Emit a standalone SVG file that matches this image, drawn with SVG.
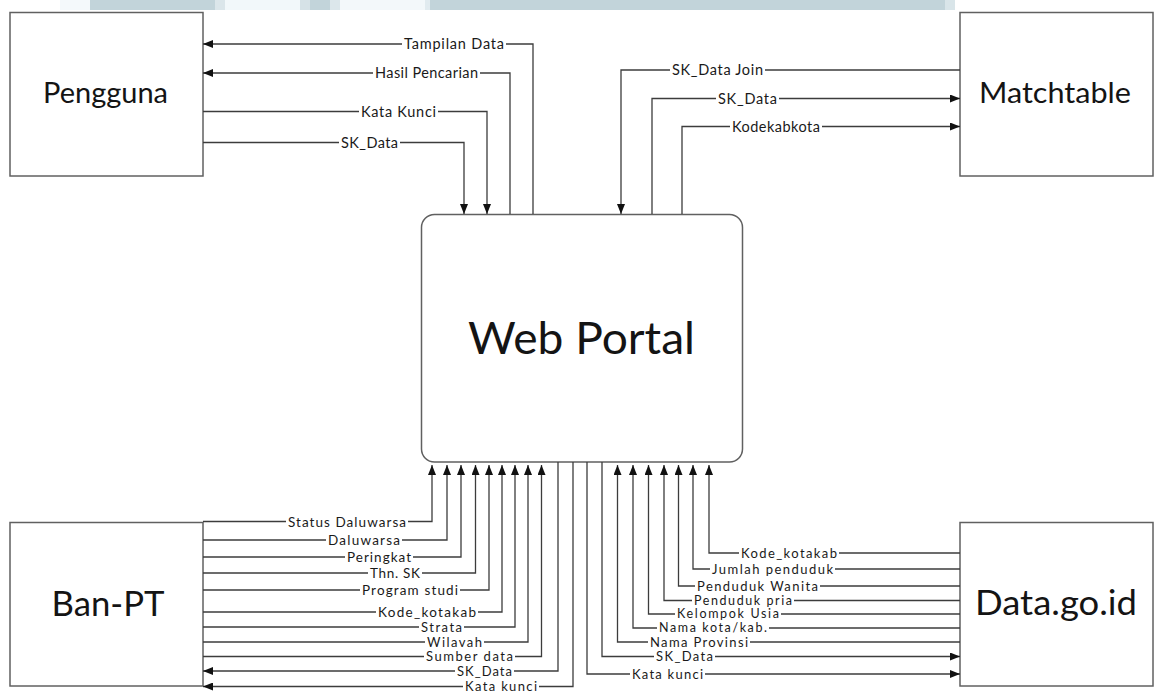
<svg xmlns="http://www.w3.org/2000/svg" width="1156" height="692" viewBox="0 0 1156 692">
<style>
.box{fill:#fff;stroke:#606060;stroke-width:1.5}
.name{font-family:Lato,"Open Sans","Liberation Sans",sans-serif;fill:#141414;text-anchor:middle}
.ln{fill:none;stroke:#3c3c3c;stroke-width:1.3}
.arr{marker-end:url(#ah)}
.bg{fill:#fff}
.lb{font-family:Lato,"Open Sans","Liberation Sans",sans-serif;font-size:13px;fill:#1a1a1a;text-anchor:middle}
.lt{font-size:14.5px}
.lm{font-size:13.5px}
.ls{font-size:12.5px}
</style>
<defs>
<marker id="ah" markerUnits="userSpaceOnUse" markerWidth="10" markerHeight="8" refX="10" refY="4" orient="auto">
<path d="M0,0 L10,4 L0,8 z" fill="#111"/>
</marker>
</defs>
<rect width="1156" height="692" fill="#fff"/>
<g id="banner">
<rect x="60" y="0" width="30" height="10" fill="#f4f9fb"/>
<rect x="90" y="0" width="865" height="10" fill="#c2d4da"/>
<rect x="215" y="0" width="10" height="10" fill="#dbe6ea"/>
<rect x="225" y="0" width="75" height="10" fill="#f2f8fa"/>
<rect x="300" y="0" width="10" height="10" fill="#d6e2e7"/>
<rect x="330" y="0" width="10" height="10" fill="#dce7eb"/>
<rect x="340" y="0" width="85" height="10" fill="#f3f8fa"/>
<rect x="425" y="0" width="5" height="10" fill="#e1ebef"/>
<rect x="945" y="0" width="10" height="10" fill="#d9e5e9"/>
</g>
<g id="pengguna">
<rect class="box" x="10" y="12.5" width="193" height="163.5"/>
<text class="name" x="105.5" y="103" font-size="28" textLength="125" lengthAdjust="spacingAndGlyphs">Pengguna</text>
</g>
<g id="matchtable">
<rect class="box" x="960" y="12.5" width="193" height="163.5"/>
<text class="name" x="1055" y="103" font-size="28" textLength="152" lengthAdjust="spacingAndGlyphs">Matchtable</text>
</g>
<g id="web-portal">
<rect class="box" x="421.5" y="214.5" width="321" height="247.5" rx="13"/>
<text class="name" x="581.5" y="354" font-size="45" textLength="227" lengthAdjust="spacingAndGlyphs">Web Portal</text>
</g>
<g id="ban-pt">
<rect class="box" x="10" y="522.5" width="193" height="163.5"/>
<text class="name" x="108" y="616" font-size="34" textLength="113" lengthAdjust="spacingAndGlyphs">Ban-PT</text>
</g>
<g id="data-go-id">
<rect class="box" x="960" y="522.5" width="193" height="163.5"/>
<text class="name" x="1056" y="615" font-size="34" textLength="162" lengthAdjust="spacingAndGlyphs">Data.go.id</text>
</g>
<g id="connectors">
<path class="ln arr" d="M533,214 V44 H203"/>
<rect class="bg" x="402" y="37" width="104" height="14"/><text class="lb lt" x="454" y="49" textLength="100">Tampilan Data</text>
<path class="ln arr" d="M510,214 V73 H203"/>
<rect class="bg" x="373" y="66" width="107" height="14"/><text class="lb lt" x="426.5" y="78" textLength="103">Hasil Pencarian</text>
<path class="ln arr" d="M203,111.5 H487 V214"/>
<rect class="bg" x="359" y="104.5" width="79" height="14"/><text class="lb lt" x="398.5" y="116.5" textLength="75">Kata Kunci</text>
<path class="ln arr" d="M203,142.5 H464 V214"/>
<rect class="bg" x="339" y="135.5" width="61" height="14"/><text class="lb lt" x="369.5" y="147.5" textLength="57">SK_Data</text>
<path class="ln arr" d="M960,70 H621 V214"/>
<rect class="bg" x="670" y="63" width="95" height="14"/><text class="lb lt" x="717.5" y="75" textLength="91">SK_Data Join</text>
<path class="ln arr" d="M652,214 V98.5 H960"/>
<rect class="bg" x="716" y="91.5" width="63" height="14"/><text class="lb lt" x="747.5" y="103.5" textLength="59">SK_Data</text>
<path class="ln arr" d="M682,214 V126.5 H960"/>
<rect class="bg" x="730" y="119.5" width="92" height="14"/><text class="lb lt" x="776" y="131.5" textLength="88">Kodekabkota</text>
<path class="ln arr" d="M203,521.5 H432 V465"/>
<rect class="bg" x="286" y="515" width="122" height="13"/><text class="lb lm" x="347" y="526.5" textLength="118">Status Daluwarsa</text>
<path class="ln arr" d="M203,540 H447 V465"/>
<rect class="bg" x="326" y="533.5" width="76" height="13"/><text class="lb lm" x="364" y="545" textLength="72">Daluwarsa</text>
<path class="ln arr" d="M203,557 H461 V465"/>
<rect class="bg" x="345" y="550.5" width="68" height="13"/><text class="lb lm" x="379" y="562" textLength="64">Peringkat</text>
<path class="ln arr" d="M203,573 H475.5 V465"/>
<rect class="bg" x="368" y="566.5" width="54" height="13"/><text class="lb lm" x="395" y="578" textLength="50">Thn. SK</text>
<path class="ln arr" d="M203,590 H489 V465"/>
<rect class="bg" x="360" y="583.5" width="100" height="13"/><text class="lb lm" x="410" y="595" textLength="96">Program studi</text>
<path class="ln arr" d="M203,612 H502 V465"/>
<rect class="bg" x="376" y="605.5" width="102" height="13"/><text class="lb lm" x="427" y="617" textLength="98">Kode_kotakab</text>
<path class="ln arr" d="M203,627 H515 V465"/>
<rect class="bg" x="419" y="620.5" width="45" height="13"/><text class="lb" x="441.5" y="631.5" textLength="41">Strata</text>
<path class="ln arr" d="M203,642 H528 V465"/>
<rect class="bg" x="425" y="635.5" width="59" height="13"/><text class="lb" x="454.5" y="646.5" textLength="55">Wilavah</text>
<path class="ln arr" d="M203,656.5 H541.5 V465"/>
<rect class="bg" x="424" y="650" width="91" height="13"/><text class="lb" x="469.5" y="661" textLength="87">Sumber data</text>
<path class="ln arr" d="M558,462 V671 H203"/>
<rect class="bg" x="455" y="664.5" width="59" height="13"/><text class="lb" x="484.5" y="675.5" textLength="55">SK_Data</text>
<path class="ln arr" d="M573,462 V686.5 H203"/>
<rect class="bg" x="463" y="680" width="76" height="12"/><text class="lb" x="501" y="691" textLength="72">Kata kunci</text>
<path class="ln arr" d="M960,553 H709 V465"/>
<rect class="bg" x="739" y="546.5" width="100" height="13"/><text class="lb" x="789" y="557.5" textLength="96">Kode_kotakab</text>
<path class="ln arr" d="M960,569 H693 V465"/>
<rect class="bg" x="710" y="562.5" width="125" height="13"/><text class="lb" x="772.5" y="573.5" textLength="121">Jumlah penduduk</text>
<path class="ln arr" d="M960,586 H678.5 V465"/>
<rect class="bg" x="695" y="579.5" width="125" height="13"/><text class="lb" x="757.5" y="590.5" textLength="121">Penduduk Wanita</text>
<path class="ln arr" d="M960,600.5 H664 V465"/>
<rect class="bg" x="692" y="594.5" width="102" height="12"/><text class="lb ls" x="743" y="604.5" textLength="98">Penduduk pria</text>
<path class="ln arr" d="M960,614 H648.5 V465"/>
<rect class="bg" x="675" y="608" width="106" height="12"/><text class="lb ls" x="728" y="618.3" textLength="102">Kelompok Usia</text>
<path class="ln arr" d="M960,628 H633 V465"/>
<rect class="bg" x="657" y="622" width="112" height="12"/><text class="lb ls" x="713" y="632.3" textLength="108">Nama kota/kab.</text>
<path class="ln arr" d="M960,642 H617.5 V465"/>
<rect class="bg" x="648" y="635.5" width="102" height="13"/><text class="lb" x="699" y="646.5" textLength="98">Nama Provinsi</text>
<path class="ln arr" d="M602,462 V656.5 H960"/>
<rect class="bg" x="654" y="650" width="61" height="13"/><text class="lb" x="684.5" y="661" textLength="57">SK_Data</text>
<path class="ln arr" d="M587,462 V674 H960"/>
<rect class="bg" x="630" y="667.5" width="75" height="13"/><text class="lb" x="667.5" y="678.5" textLength="71">Kata kunci</text>
</g>
</svg>
